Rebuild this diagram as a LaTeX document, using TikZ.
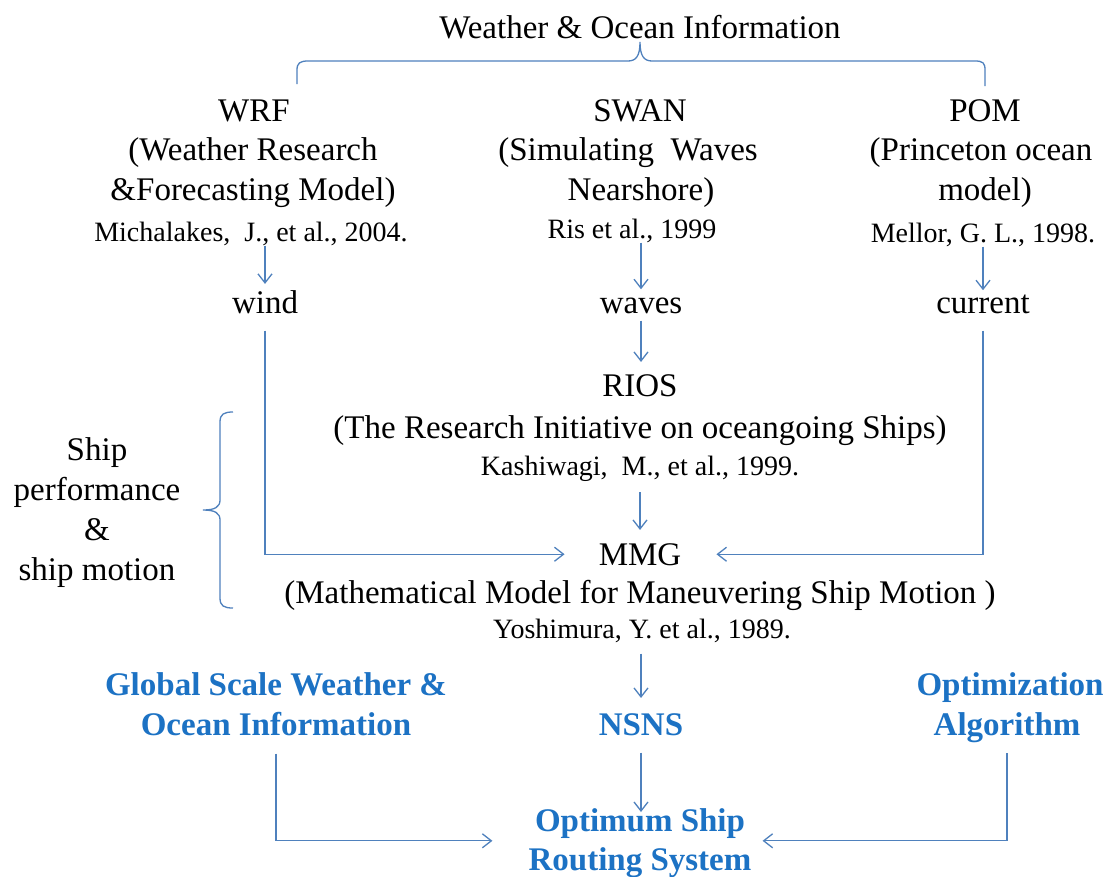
\documentclass[tikz,border=0pt]{standalone}
\usepackage{fontspec}
\setmainfont{Liberation Serif}
\usetikzlibrary{arrows.meta,calc}
\definecolor{linecol}{RGB}{79,129,189}
\definecolor{bluetxt}{RGB}{28,114,196}
\tikzset{
  txt/.style={anchor=base, inner sep=0pt, font=\fontsize{33}{39}\selectfont},
  citetxt/.style={anchor=base, inner sep=0pt, font=\fontsize{28}{33}\selectfont},
  bluebox/.style={anchor=base, inner sep=0pt, text=bluetxt, font=\fontsize{33}{39}\selectfont\bfseries},
  arr/.style={draw=linecol, line width=1.3pt, -{Straight Barb[length=9pt,width=14pt]}},
  bracepath/.style={draw=linecol, line width=1.3pt}
}
\begin{document}
\begin{tikzpicture}[x=1pt,y=-1pt]
\useasboundingbox[fill=white] (0,0) rectangle (1110,876);

% title and top brace
\node[txt] (title) at (640,38) {Weather \& Ocean Information};
\path[bracepath] (297,84) -- (297,70) .. controls (297,63) and (300,61) .. (308,61)
  -- (628,61) .. controls (636,61) and (640,56) .. (640,42)
  .. controls (640,56) and (644,61) .. (652,61)
  -- (975,61) .. controls (983,61) and (985,63) .. (985,70) -- (985,86);

% WRF column
\node[txt] (wrf1) at (254,121) {WRF};
\node[txt] (wrf2) at (253,160) {(Weather Research};
\node[txt] (wrf3) at (253,200) {\&Forecasting Model)};
\node[citetxt] (wrfcite) at (251,241) {Michalakes,\ \ J., et al., 2004.};
\node[txt] (wind) at (265,313) {wind};

% SWAN column
\node[txt] (swan1) at (640,121) {SWAN};
\node[txt] (swan2) at (628,160) {(Simulating\ \ Waves};
\node[txt] (swan3) at (641,200) {Nearshore)};
\node[citetxt] (swancite) at (632,238) {Ris et al., 1999};
\node[txt] (waves) at (641,313) {waves};

% POM column
\node[txt] (pom1) at (985,121) {POM};
\node[txt] (pom2) at (981,160) {(Princeton ocean};
\node[txt] (pom3) at (985,200) {model)};
\node[citetxt] (pomcite) at (983,242) {Mellor, G. L., 1998.};
\node[txt] (current) at (983,313) {current};

% RIOS
\node[txt] (rios) at (640,396) {RIOS};
\node[txt] (rios2) at (640,438) {(The Research Initiative on oceangoing Ships)};
\node[citetxt] (rioscite) at (640,475) {Kashiwagi,\ \ M., et al., 1999.};

% MMG
\node[txt] (mmg) at (640,565) {MMG};
\node[txt] (mmg2) at (640,603) {(Mathematical Model for Maneuvering Ship Motion )};
\node[citetxt] (mmgcite) at (642,638) {Yoshimura, Y. et al., 1989.};

% left label and brace
\node[txt] (sp1) at (97,460) {Ship};
\node[txt] (sp2) at (97,500) {performance};
\node[txt] (sp3) at (97,540) {\&};
\node[txt] (sp4) at (97,580) {ship motion};
\path[bracepath] (233,412) .. controls (224,412) and (220,414) .. (220,422)
  -- (220,500) .. controls (220,507) and (215,510) .. (203,510)
  .. controls (215,510) and (220,513) .. (220,520)
  -- (220,598) .. controls (220,606) and (224,608) .. (233,608);

% bottom blue nodes
\node[bluebox] (glob1) at (276,695) {Global Scale Weather \&};
\node[bluebox] (glob2) at (276,735) {Ocean Information};
\node[bluebox] (nsns) at (641,735) {NSNS};
\node[bluebox] (opt1) at (1010,695) {Optimization};
\node[bluebox] (opt2) at (1007,735) {Algorithm};
\node[bluebox, anchor=north, align=center] (osrs) at (640,808) {Optimum Ship\\Routing System};

% connectors
\draw[arr] (wrfcite.south -| wind) -- ($(wind.north)+(0,-6)$);
\draw[arr] (swancite.south -| waves) -- ($(waves.north)+(0,-8)$);
\draw[arr] (pomcite.south -| current) -- ($(current.north)+(0,-4)$);
\draw[arr] ($(waves.south)+(0,7)$) -- ($(rios.north -| waves)+(0,-12)$);
\draw[arr] ($(rioscite.south)+(0,11)$) -- ($(mmg.north -| rioscite)+(0,-13)$);
\draw[arr] ($(wind.south)+(0,17)$) |- ($(mmg.west)+(-34,0)$);
\draw[arr] ($(current.south)+(0,17)$) |- ($(mmg.east)+(35,0)$);
\draw[arr] ($(mmgcite.south -| nsns)+(0,11)$) -- ($(nsns.north)+(0,-15)$);
\draw[arr] ($(nsns.south)+(0,17)$) -- ($(osrs.north -| nsns)+(0,4)$);
\draw[arr] ($(glob2.south)+(0,18)$) |- ($(osrs.west)+(-36,-2)$);
\draw[arr] ($(opt2.south)+(0,11)$) |- ($(osrs.east)+(11,-2)$);
\end{tikzpicture}
\end{document}
